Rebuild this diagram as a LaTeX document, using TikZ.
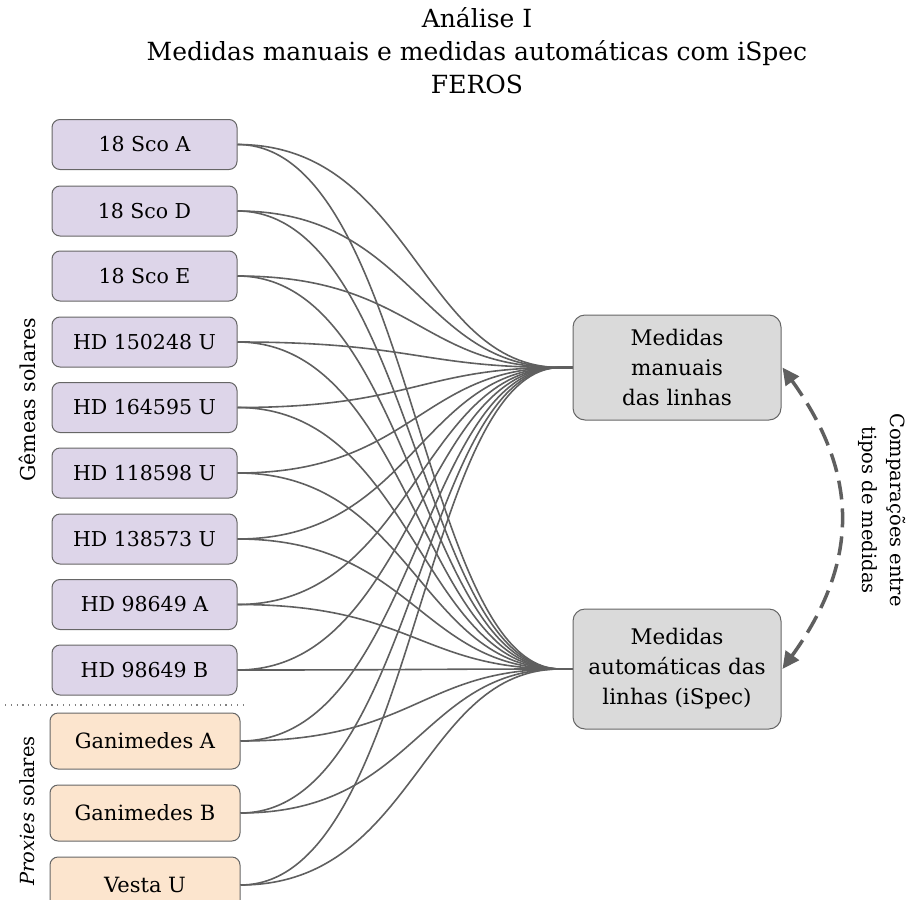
\documentclass[tikz,border=0pt]{standalone}
\usepackage{fontspec}
\setmainfont{DejaVu Serif}
\usetikzlibrary{arrows.meta}
\begin{document}
\begin{tikzpicture}[x=1pt,y=-1pt,
  txt/.style={font=\fontsize{20.5}{30}\selectfont},
  star/.style={txt, draw=boxline, line width=1pt, rounded corners=8pt,
    minimum width=185pt, minimum height=50pt, inner sep=0pt, fill=twinfill},
  proxy/.style={star, font=\fontsize{21}{30}\selectfont,
    minimum width=190pt, minimum height=56pt, fill=proxyfill},
  target/.style={font=\fontsize{21.5}{30}\selectfont, draw=boxline, line width=1pt,
    rounded corners=12pt, minimum width=208pt, inner sep=0pt, align=center,
    fill=targetfill},
  side/.style={font=\fontsize{19.5}{28}\selectfont},
  edge/.style={draw=edgecol, line width=1.6pt},
  compare/.style={draw=edgecol, line width=3.5pt, dash pattern=on 19pt off 9pt,
    {Triangle[length=17pt,width=16pt]}-{Triangle[length=17pt,width=16pt]}},
  sep/.style={draw=gray, line width=1.2pt, dash pattern=on 1.2pt off 4.6pt},
]
\definecolor{twinfill}{HTML}{DDD5E9}
\definecolor{proxyfill}{HTML}{FCE5CE}
\definecolor{targetfill}{HTML}{DADADA}
\definecolor{boxline}{HTML}{666666}
\definecolor{edgecol}{HTML}{5F5F5F}
\useasboundingbox (0,0) rectangle (911,908);

\node[align=center, font=\fontsize{25}{33}\selectfont] (title) at (477,51)
  {Análise I\\Medidas manuais e medidas automáticas com iSpec\\FEROS};

\begin{scope}
\clip (0,0) rectangle (911,899);

% solar twins
\node[star] (s1) at (144.5,144.5) {18 Sco A};
\node[star] (s2) at (144.5,211)   {18 Sco D};
\node[star] (s3) at (144.5,276)   {18 Sco E};
\node[star] (s4) at (144.5,342)   {HD 150248 U};
\node[star] (s5) at (144.5,407.5) {HD 164595 U};
\node[star] (s6) at (144.5,473)   {HD 118598 U};
\node[star] (s7) at (144.5,539)   {HD 138573 U};
\node[star] (s8) at (144.5,604.5) {HD 98649 A};
\node[star] (s9) at (144.5,670)   {HD 98649 B};

% solar proxies
\node[proxy] (p1) at (145,741) {Ganimedes A};
\node[proxy] (p2) at (145,813) {Ganimedes B};
\node[proxy] (p3) at (145,885) {Vesta U};

% measurement sets
\node[target, minimum height=105pt] (man) at (677,367.5)
  {Medidas\\manuais\\das linhas};
\node[target, minimum height=120pt] (aut) at (677,669)
  {Medidas\\automáticas das\\linhas (iSpec)};

% every spectrum feeds both measurement sets
\foreach \s in {s1,s2,s3,s4,s5,s6,s7,s8,s9,p1,p2,p3} {
  \draw[edge] (\s.east) .. controls +(175,0) and +(-140,0) ..
    ([xshift=-12pt]man.west) -- (man.west);
  \draw[edge] (\s.east) .. controls +(175,0) and +(-140,0) ..
    ([xshift=-12pt]aut.west) -- (aut.west);
}
\end{scope}

% separator between the two groups
\coordinate (sepL) at (5,705);
\coordinate (sepR) at (245,705);
\draw[sep] (sepL) -- (sepR);

% group labels
\node[side, font=\fontsize{20.5}{28}\selectfont, rotate=90] (g1) at (27,400) {Gêmeas solares};
\node[side, rotate=90] (g2) at (27,811) {\textit{Proxies} solares};

% comparison between measurement types
\draw[compare] ([xshift=1pt]aut.east) .. controls +(77,-107) and +(77,107) .. ([xshift=1pt]man.east);
\node[side, rotate=-90, align=center] (cmp) at (882,510)
  {Comparações entre\\tipos de medidas};
\end{tikzpicture}
\end{document}
